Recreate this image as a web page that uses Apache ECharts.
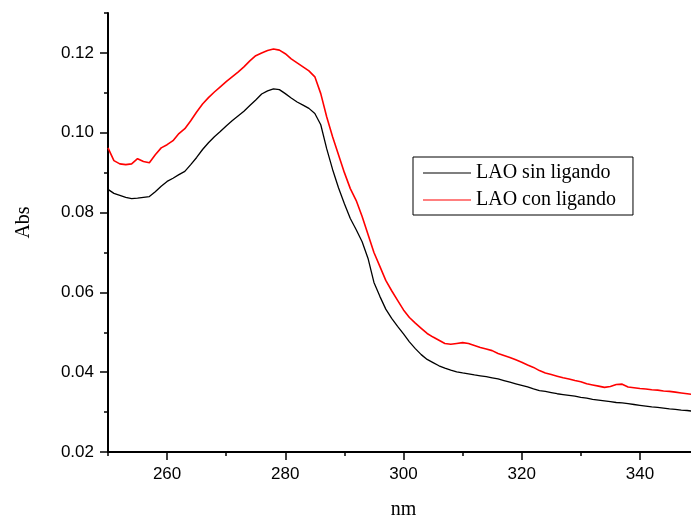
<!DOCTYPE html>
<html>
<head>
<meta charset="utf-8">
<script src="https://cdn.jsdelivr.net/npm/echarts@6/dist/echarts.min.js"></script>
<style>html,body{margin:0;padding:0;background:#fff;}#c{width:691px;height:518px;}</style>
</head>
<body>
<div id="c"></div>
<script>
// wavelength (nm)
const wavelength = [250,251,252,253,254,255,256,257,258,259,260,261,262,263,264,265,266,267,268,269,270,271,272,273,274,275,276,277,278,279,280,281,282,283,284,285,286,287,288,289,290,291,292,293,294,295,296,297,298,299,300,301,302,303,304,305,306,307,308,309,310,311,312,313,314,315,316,317,318,319,320,321,322,323,324,325,326,327,328,329,330,331,332,333,334,335,336,337,338,339,340,341,342,343,344,345,346,347,348,349,350];
// LAO sin ligando
const absSin = [0.0858,0.0848,0.0843,0.0838,0.0835,0.0836,0.0838,0.0840,0.0852,0.0866,0.0878,0.0886,0.0895,0.0903,0.0920,0.0938,0.0958,0.0975,0.0990,0.1003,0.1017,0.1030,0.1042,0.1054,0.1068,0.1082,0.1097,0.1105,0.1110,0.1108,0.1098,0.1087,0.1077,0.1069,0.1061,0.1048,0.1020,0.0960,0.0908,0.0862,0.0822,0.0785,0.0757,0.0727,0.0685,0.0625,0.0590,0.0558,0.0535,0.0515,0.0496,0.0476,0.0459,0.0444,0.0432,0.0424,0.0416,0.0410,0.0405,0.0401,0.0398,0.0396,0.0393,0.0391,0.0389,0.0386,0.0383,0.0379,0.0375,0.0371,0.0367,0.0363,0.0358,0.0354,0.0352,0.0349,0.0346,0.0344,0.0342,0.0340,0.0337,0.0335,0.0332,0.0330,0.0328,0.0326,0.0324,0.0323,0.0321,0.0319,0.0317,0.0315,0.0313,0.0312,0.0310,0.0308,0.0307,0.0305,0.0304,0.0302,0.0300];
// LAO con ligando
const absCon = [0.0962,0.0930,0.0922,0.0920,0.0922,0.0935,0.0928,0.0925,0.0945,0.0962,0.0970,0.0980,0.0998,0.1010,0.1030,0.1052,0.1072,0.1088,0.1102,0.1115,0.1128,0.1140,0.1152,0.1165,0.1180,0.1193,0.1200,0.1206,0.1210,0.1207,0.1198,0.1185,0.1175,0.1165,0.1155,0.1140,0.1098,0.1040,0.0990,0.0945,0.0900,0.0860,0.0830,0.0790,0.0745,0.0700,0.0665,0.0630,0.0604,0.0580,0.0556,0.0537,0.0523,0.0510,0.0497,0.0488,0.0480,0.0472,0.0470,0.0472,0.0474,0.0472,0.0467,0.0462,0.0458,0.0454,0.0447,0.0442,0.0437,0.0431,0.0425,0.0418,0.0412,0.0404,0.0398,0.0394,0.0390,0.0386,0.0383,0.0379,0.0376,0.0371,0.0368,0.0365,0.0362,0.0364,0.0369,0.0370,0.0363,0.0361,0.0359,0.0358,0.0356,0.0355,0.0353,0.0352,0.0350,0.0348,0.0346,0.0344,0.0342];
// ticks
const xMajorTicks = [260,280,300,320,340];
const xMinorTicks = [250,270,290,310,330,350];
const yMajorTicks = [0.02,0.04,0.06,0.08,0.10,0.12];
const yMinorTicks = [0.03,0.05,0.07,0.09,0.11,0.13];
const seriesNames = ['LAO sin ligando','LAO con ligando'];

const pair = (xs, ys) => xs.map((x,i)=>[x, ys[i]]);
const lineStyleAxis = {color:'#000', width:2};
const chart = echarts.init(document.getElementById('c'), null, {renderer:'canvas'});
chart.setOption({
  backgroundColor:'#fff',
  animation:false,
  grid:{left:108, right:-8, top:13, bottom:66, outerBoundsMode:'none', containLabel:false},
  legend:{
    left:413, top:157, orient:'vertical',
    data: seriesNames,
    icon:'rect', itemWidth:48, itemHeight:1.2, itemGap:7,
    padding:[6,17,5,10],
    borderColor:'#000', borderWidth:1,
    textStyle:{fontFamily:'Liberation Serif', fontSize:20, color:'#000'}
  },
  xAxis:[{
    type:'value', min:250, max:350, position:'bottom',
    name:'nm', nameLocation:'middle', nameGap:48,
    nameTextStyle:{fontFamily:'Liberation Serif', fontSize:20, color:'#000'},
    axisLine:{show:true, onZero:false, lineStyle:lineStyleAxis},
    axisTick:{show:true, length:8, customValues:xMajorTicks, lineStyle:{color:'#000',width:1.5}},
    axisLabel:{show:true, customValues:xMajorTicks, margin:14, fontFamily:'Liberation Sans', fontSize:17, color:'#000'},
    splitLine:{show:false}
  },{
    type:'value', min:250, max:350, position:'bottom',
    axisLine:{show:false, onZero:false},
    axisTick:{show:true, length:4, customValues:xMinorTicks, lineStyle:{color:'#000',width:1.5}},
    axisLabel:{show:false},
    splitLine:{show:false}
  }],
  yAxis:[{
    type:'value', min:0.02, max:0.13, position:'left',
    name:'Abs', nameLocation:'middle', nameGap:74,
    nameTextStyle:{fontFamily:'Liberation Serif', fontSize:20, color:'#000', padding:[0,0,0,20]},
    axisLine:{show:true, onZero:false, lineStyle:lineStyleAxis},
    axisTick:{show:true, length:8, customValues:yMajorTicks, lineStyle:{color:'#000',width:1.5}},
    axisLabel:{show:true, customValues:yMajorTicks, margin:14, fontFamily:'Liberation Sans', fontSize:17, color:'#000',
      formatter:(v)=>v.toFixed(2)},
    splitLine:{show:false}
  },{
    type:'value', min:0.02, max:0.13, position:'left',
    axisLine:{show:false, onZero:false},
    axisTick:{show:true, length:4, customValues:yMinorTicks, lineStyle:{color:'#000',width:1.5}},
    axisLabel:{show:false},
    splitLine:{show:false}
  }],
  series:[{
    name:seriesNames[0], type:'line', xAxisIndex:0, yAxisIndex:0,
    data:pair(wavelength, absSin), showSymbol:false, symbol:'none',
    lineStyle:{color:'#000', width:1.3}, itemStyle:{color:'#000'}, clip:true
  },{
    name:seriesNames[1], type:'line', xAxisIndex:0, yAxisIndex:0,
    data:pair(wavelength, absCon), showSymbol:false, symbol:'none',
    lineStyle:{color:'#ff0000', width:1.6}, itemStyle:{color:'#ff0000'}, clip:true
  }]
});
</script>
</body>
</html>
